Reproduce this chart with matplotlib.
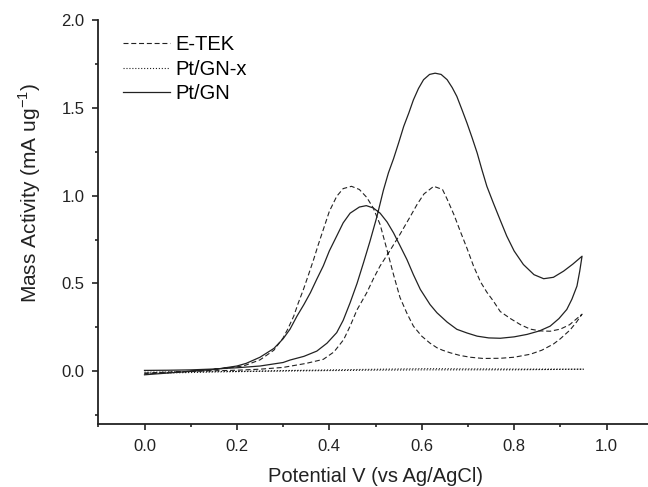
import matplotlib
matplotlib.use('Agg')
import matplotlib.pyplot as plt
from matplotlib.ticker import MultipleLocator

plt.rcParams['font.family'] = ['Liberation Sans', 'DejaVu Sans']

# E-TEK: Hinscan (0 -> 0.95 V)
etek_fwd_x = [0.0, 0.05, 0.1, 0.15, 0.2, 0.25, 0.3, 0.35, 0.387, 0.41, 0.431, 0.445, 0.46,
              0.481, 0.496, 0.51, 0.532, 0.553, 0.575, 0.59, 0.605, 0.626, 0.645, 0.655,
              0.67, 0.683, 0.698, 0.712, 0.727, 0.741, 0.755, 0.77, 0.792, 0.814, 0.835,
              0.856, 0.878, 0.9, 0.92, 0.947]
etek_fwd_y = [-0.01, -0.005, 0.0, 0.003, 0.006, 0.012, 0.022, 0.045, 0.068, 0.11, 0.18, 0.257, 0.35,
              0.447, 0.53, 0.6, 0.69, 0.78, 0.88, 0.95, 1.01, 1.053, 1.035, 0.98,
              0.89, 0.8, 0.70, 0.6, 0.51, 0.45, 0.40, 0.34, 0.30, 0.265, 0.24,
              0.23, 0.228, 0.24, 0.265, 0.325]
# E-TEK: Rueckscan (0.95 -> 0 V)
etek_bwd_x = [0.947, 0.935, 0.921, 0.9, 0.885, 0.86, 0.835, 0.8, 0.77, 0.733, 0.705, 0.683,
              0.662, 0.645, 0.633, 0.618, 0.6, 0.582, 0.568, 0.553, 0.539, 0.525, 0.51,
              0.495, 0.481, 0.465, 0.448, 0.43, 0.416, 0.4, 0.387, 0.376, 0.366, 0.355,
              0.344, 0.333, 0.323, 0.31, 0.3, 0.28, 0.25, 0.214, 0.15, 0.1, 0.05, 0.0]
etek_bwd_y = [0.325, 0.28, 0.235, 0.185, 0.155, 0.12, 0.097, 0.08, 0.074, 0.073, 0.08, 0.09,
              0.105, 0.12, 0.134, 0.16, 0.2, 0.257, 0.33, 0.42, 0.55, 0.69, 0.835,
              0.93, 0.99, 1.035, 1.053, 1.04, 0.996, 0.91, 0.807, 0.72, 0.636, 0.55,
              0.466, 0.39, 0.314, 0.24, 0.19, 0.12, 0.065, 0.03, 0.01, 0.0, -0.008, -0.015]

# Pt/GN-x: fast flach
ptgnx_x = [0.0, 0.2, 0.4, 0.6, 0.8, 0.95, 0.8, 0.6, 0.4, 0.2, 0.0]
ptgnx_y = [-0.005, 0.0, 0.008, 0.015, 0.013, 0.012, 0.008, 0.008, 0.004, -0.002, -0.012]

# Pt/GN: Hinscan
ptgn_fwd_x = [0.0, 0.05, 0.1, 0.15, 0.2, 0.25, 0.3, 0.315, 0.345, 0.373, 0.395, 0.416, 0.43,
              0.445, 0.46, 0.474, 0.488, 0.503, 0.517, 0.528, 0.539, 0.55, 0.561, 0.572,
              0.582, 0.593, 0.604, 0.617, 0.629, 0.642, 0.655, 0.666, 0.676, 0.687, 0.698,
              0.709, 0.72, 0.73, 0.741, 0.755, 0.77, 0.784, 0.8, 0.82, 0.843, 0.864,
              0.885, 0.907, 0.927, 0.947]
ptgn_fwd_y = [0.005, 0.006, 0.008, 0.013, 0.02, 0.03, 0.05, 0.064, 0.085, 0.115, 0.16, 0.22, 0.29,
              0.39, 0.5, 0.618, 0.74, 0.88, 1.03, 1.13, 1.21, 1.30, 1.394, 1.47,
              1.545, 1.61, 1.66, 1.69, 1.697, 1.69, 1.66, 1.615, 1.565, 1.49, 1.413,
              1.33, 1.243, 1.15, 1.053, 0.958, 0.86, 0.77, 0.685, 0.608, 0.55, 0.527,
              0.535, 0.57, 0.61, 0.655]
# Pt/GN: Rueckscan
ptgn_bwd_x = [0.947, 0.942, 0.936, 0.925, 0.914, 0.897, 0.878, 0.855, 0.828, 0.8, 0.77, 0.745,
              0.72, 0.698, 0.676, 0.655, 0.633, 0.618, 0.597, 0.582, 0.568, 0.553, 0.539,
              0.525, 0.51, 0.495, 0.48, 0.465, 0.445, 0.43, 0.416, 0.4, 0.387, 0.373,
              0.359, 0.345, 0.33, 0.315, 0.3, 0.28, 0.25, 0.22, 0.2, 0.15, 0.1, 0.05, 0.0]
ptgn_bwd_y = [0.655, 0.57, 0.485, 0.41, 0.352, 0.3, 0.257, 0.23, 0.21, 0.196, 0.188, 0.19,
              0.2, 0.218, 0.239, 0.28, 0.333, 0.38, 0.466, 0.55, 0.636, 0.715, 0.788,
              0.85, 0.90, 0.93, 0.943, 0.935, 0.90, 0.845, 0.77, 0.685, 0.60, 0.525,
              0.447, 0.38, 0.314, 0.24, 0.185, 0.13, 0.08, 0.045, 0.03, 0.01, 0.0, -0.01, -0.02]

fig = plt.figure(figsize=(6.48, 4.87), dpi=100)
ax = fig.add_axes([0.1517, 0.1294, 0.8556, 0.8296])

farbe = '#222222'
ax.plot(etek_fwd_x + etek_bwd_x, etek_fwd_y + etek_bwd_y, color=farbe, linewidth=0.8,
        linestyle='--', dashes=(4.5, 2.5), label='E-TEK')
ax.plot(ptgnx_x, ptgnx_y, color=farbe, linewidth=0.8, linestyle=':', label='Pt/GN-x')
ax.plot(ptgn_fwd_x + ptgn_bwd_x, ptgn_fwd_y + ptgn_bwd_y, color=farbe, linewidth=0.9,
        linestyle='-', label='Pt/GN')

ax.set_xlim(-0.1, 1.1)
ax.set_ylim(-0.3, 2.0)
ax.xaxis.set_minor_locator(MultipleLocator(0.1))
ax.yaxis.set_minor_locator(MultipleLocator(0.25))
ax.set_xticks([0.0, 0.2, 0.4, 0.6, 0.8, 1.0])
ax.set_yticks([0.0, 0.5, 1.0, 1.5, 2.0])

ax.spines['top'].set_visible(False)
ax.spines['right'].set_visible(False)
for s in ['left', 'bottom']:
    ax.spines[s].set_linewidth(1.3)
    ax.spines[s].set_color(farbe)
ax.tick_params(which='major', direction='out', length=4, width=1.2, labelsize=12, colors=farbe)
ax.tick_params(which='minor', direction='out', length=2.5, width=1.2, colors=farbe)
ax.tick_params(axis='x', pad=6.5)
ax.tick_params(axis='y', pad=6)

ax.set_xlabel('Potential V (vs Ag/AgCl)', fontsize=14.5, color=farbe, labelpad=10)
ax.set_ylabel('Mass Activity (mA ug$^{\\mathregular{-1}}$)', fontsize=15, color=farbe)
ax.yaxis.set_label_coords(-0.1, 0.572)

ax.legend(loc='upper left', bbox_to_anchor=(0.045, 0.962), frameon=False, fontsize=14.5,
          handlelength=2.3, handletextpad=0.3, labelspacing=0.26, borderpad=0, borderaxespad=0)

plt.savefig('out.png', dpi=100)
